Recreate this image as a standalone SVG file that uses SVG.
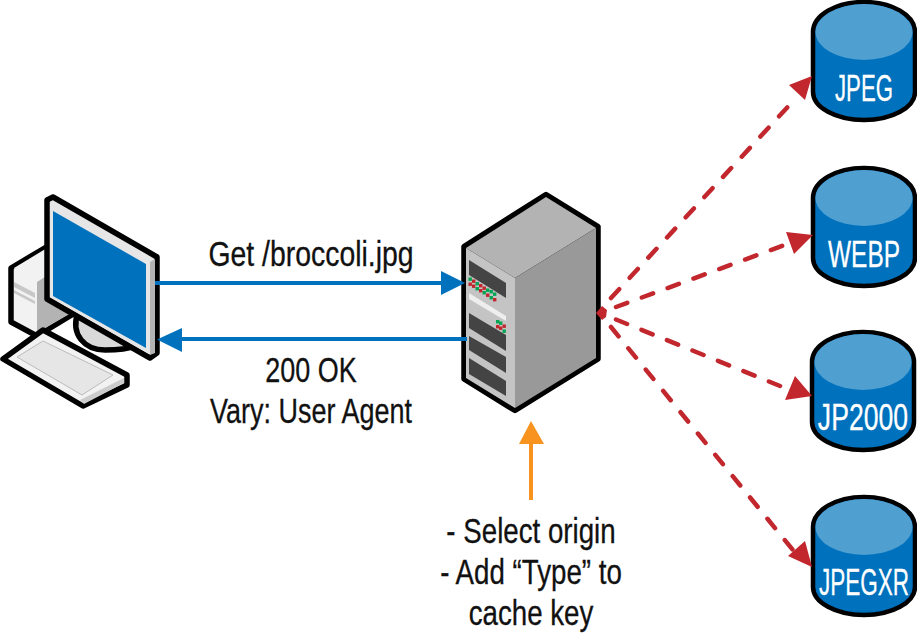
<svg xmlns="http://www.w3.org/2000/svg" width="917" height="635" viewBox="0 0 917 635">
<style>
text{font-family:"Liberation Sans",Arial,sans-serif;font-size:35.500px;fill:#111;text-anchor:middle;stroke:#111;stroke-width:.3}
.w{fill:#fff;stroke:#fff;font-size:37px}
.blue{stroke:#0071bc;stroke-width:4;fill:none}
.red{stroke:#c1272d;stroke-width:4.500;fill:none;stroke-dasharray:12 15.500;stroke-linecap:round}
.k{stroke:#000;stroke-width:5.500;stroke-linejoin:round}
.body{fill:#0071bc;stroke:#000;stroke-width:4.500}
.top{fill:#4f9fd1}
.g{fill:#00a651}.r{fill:#c1272d}
.bay{fill:#444}
.dot{width:3.400px;height:3.400px}
</style>
<defs>
<g id="cyl">
<path class="body" d="M-51 30A51 30 0 0 1 51 30V90A51 28 0 0 1 -51 90Z"/>
<ellipse class="top" cx="0" cy="30" rx="48.500" ry="28"/>
</g>
</defs>

<g id="computer">
<path class="k" fill="#f2f2f2" d="M11 268L48 246V298L75 313L37 336L11 322Z"/>
<path fill="#f2f2f2" d="M14 268L47 248V275L37 282Z"/>
<path fill="#f2f2f2" d="M14 268L37 282V332L14 319Z"/>
<path fill="#b3b3b3" d="M37 282L48 275V297L73 312L47 327L37 332Z"/>
<path fill="#c8c8c8" d="M14 282L35 293V298L14 287ZM14 290L35 301V304L14 293Z"/>
<path class="k" fill="#d9d9d9" d="M78 312C70 335 85 350 105 350C118 350 128 349 136 346Z"/>
<path class="k" fill="#f2f2f2" d="M3 359L43 330L127 375V385L83 406Z"/>
<path fill="#e6e6e6" stroke="#bbb" d="M17 357L43 341L113 375L82 395Z"/>
<path fill="#ccc" d="M124 378V383L84 404L80 400Z"/>
<path class="k" fill="#e6e6e6" d="M47 200L53 197L157 257V353L150 358L47 299Z"/>
<path fill="#e6e6e6" d="M50 204L154 260V353L149 354L50 297Z"/>
<path fill="#b3b3b3" d="M150 262L155 259V353L150 355Z"/>
<path fill="#0071bc" d="M53 211L146 264V348L53 296Z"/>
</g>

<g id="server">
<path class="k" fill="#000" d="M464 246.500L546 194.500L598 226.500V359L515 410.500L464 379Z"/>
<path fill="#b3b3b3" d="M546 197L596 228L515 278L466 248Z"/>
<path fill="#999" d="M515 278L596 228V358L515 408Z"/>
<path fill="#c4c4c4" d="M466 248L515 278V408L466 378Z"/>
<path class="bay" d="M469 260L506 283V298L469 275Z"/>
<path fill="#eee" d="M469 293L506 316V321L469 299Z"/>
<path class="bay" d="M469 313L506 335V351L469 328Z"/>
<path class="bay" d="M469 336L506 357V373L469 350Z"/>
<path class="bay" d="M469 358L506 381V396L469 374Z"/>
<g class="g"><rect class="dot" x="468.500" y="277.500"/><rect class="dot" x="475.500" y="282"/><rect class="dot" x="489.500" y="290"/><rect class="dot" x="486" y="288.500"/><rect class="dot" x="493" y="292.500"/><rect class="dot" x="475.500" y="287"/><rect class="dot" x="482.500" y="291"/><rect class="dot" x="489.500" y="296"/></g>
<g class="r"><rect class="dot" x="472" y="279.500"/><rect class="dot" x="479" y="284"/><rect class="dot" x="482.500" y="286.500"/><rect class="dot" x="468.500" y="282.500"/><rect class="dot" x="472" y="284.500"/><rect class="dot" x="479" y="289"/><rect class="dot" x="486" y="293.500"/><rect class="dot" x="493" y="298"/></g>
<g class="g"><rect class="dot" x="496" y="320"/><rect class="dot" x="499" y="321.500"/><rect class="dot" x="502.500" y="329.500"/></g>
<g class="r"><rect class="dot" x="496" y="325"/><rect class="dot" x="499" y="326.500"/><rect class="dot" x="502.500" y="324.500"/></g>
</g>

<g id="jpeg"><use href="#cyl" x="864" y="2"/><text class="w" transform="translate(864 101) scale(.6 1)">JPEG</text></g>
<g id="webp"><use href="#cyl" x="864" y="168"/><text class="w" transform="translate(864 267) scale(.66 1)">WEBP</text></g>
<g id="jp2000"><use href="#cyl" x="863" y="332"/><text class="w" transform="translate(863 430) scale(.72 1)">JP2000</text></g>
<g id="jpegxr"><use href="#cyl" x="864" y="497"/><text class="w" transform="translate(864 595) scale(.61 1)">JPEGXR</text></g>

<g id="connectors">
<path class="blue" d="M155 283H444"/>
<path d="M441 271L465 283L441 295Z" fill="#0071bc"/>
<path class="blue" d="M178 339H467"/>
<path d="M182 328L157 339.500L182 352Z" fill="#0071bc"/>
<path d="M531 500V442" stroke="#f7931e" stroke-width="4" fill="none"/>
<path d="M519 444L531 421L544 444Z" fill="#f7931e"/>
<path class="red" d="M611 298L796 98"/>
<path d="M789 85L812 76L805 100Z" fill="#c1272d"/>
<path class="red" d="M616 307L790 243"/>
<path d="M786 232L813 235L794 254Z" fill="#c1272d"/>
<path class="red" d="M616 319.500L790 390"/>
<path d="M795 376L812 396L785 400Z" fill="#c1272d"/>
<path class="red" d="M611 327L797 555"/>
<path d="M805 541L812 567L788 556Z" fill="#c1272d"/>
<path d="M596 313L602 306L607 310L606 317L602 320Z" fill="#c1272d"/>
</g>

<g id="labels">
<text transform="translate(311 266) scale(.8 1)">Get /broccoli.jpg</text>
<text transform="translate(311 382) scale(.76 1)"><tspan x="0" y="0">200 OK</tspan><tspan x="0" y="41">Vary: User Agent</tspan></text>
<text transform="translate(531 543) scale(.78 1)"><tspan x="0" y="0">- Select origin</tspan><tspan x="0" y="41">- Add “Type” to</tspan><tspan x="0" y="82">cache key</tspan></text>
</g>
</svg>
